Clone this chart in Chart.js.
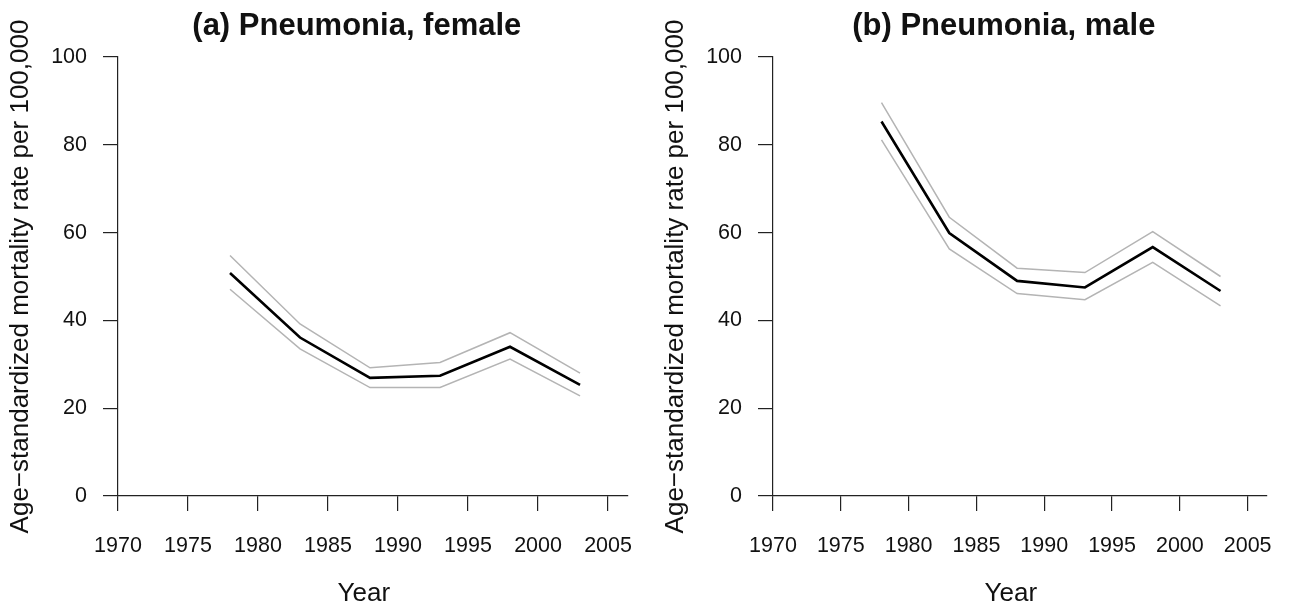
<!DOCTYPE html>
<html>
<head>
<meta charset="utf-8">
<script src="https://cdn.jsdelivr.net/npm/chart.js@4/dist/chart.umd.min.js"></script>
<style>
  html, body { margin: 0; padding: 0; background: #fff; }
  .panel { position: absolute; top: 0; }
</style>
</head>
<body>
<div class="panel" style="left:0px"><canvas id="female" width="655" height="605"></canvas></div>
<div class="panel" style="left:655px"><canvas id="male" width="639" height="605"></canvas></div>
<script>
// period mid-years and rates (per 100,000)
var years = [1978, 1983, 1988, 1993, 1998, 2003];
var femaleRate  = [50.8, 36.1, 26.9, 27.4, 34.0, 25.3];
var femaleUpper = [54.8, 39.2, 29.2, 30.4, 37.2, 28.0];
var femaleLower = [47.1, 33.5, 24.7, 24.7, 31.2, 22.8];
var maleRate  = [85.3, 59.9, 49.0, 47.5, 56.7, 46.7];
var maleUpper = [89.6, 63.5, 51.9, 50.9, 60.2, 50.0];
var maleLower = [81.1, 56.3, 46.1, 44.7, 53.2, 43.3];

var yearTicks = [1970, 1975, 1980, 1985, 1990, 1995, 2000, 2005];
var rateTicks = [0, 20, 40, 60, 80, 100];

var yLabel = "Age\u2212standardized mortality rate per 100,000";
var xLabel = "Year";

var fontFamily = '"Liberation Sans", Arial, Helvetica, sans-serif';
var axisColor = "#222222";
var textColor = "#111111";

Chart.defaults.font.family = fontFamily;
Chart.defaults.color = textColor;

// panel heading and x label, drawn after the chart
var panelText = {
  id: "panelText",
  afterDraw: function(chart, args, opts) {
    var ctx = chart.ctx;
    var area = chart.chartArea;
    var mid = (area.left + area.right) / 2;
    ctx.save();
    ctx.fillStyle = textColor;
    ctx.textAlign = "center";
    ctx.textBaseline = "alphabetic";
    ctx.font = "bold 31px " + fontFamily;
    ctx.fillText(opts.title, mid - 16, 35);
    ctx.font = "26px " + fontFamily;
    ctx.fillText(xLabel, mid - 9, 601);
    ctx.restore();
  }
};

function makeSeries(mean, upper, lower) {
  function pts(arr) {
    return years.map(function(y, i) { return {x: y, y: arr[i]}; });
  }
  return [
    { data: pts(mean), borderColor: "#000000", borderWidth: 2.6 },
    { data: pts(upper), borderColor: "#b4b4b4", borderWidth: 1.5 },
    { data: pts(lower), borderColor: "#b4b4b4", borderWidth: 1.5 }
  ];
}

function makeChart(id, title, sets, rightPad) {
  return new Chart(document.getElementById(id).getContext("2d"), {
    type: "line",
    data: { datasets: sets },
    plugins: [panelText],
    options: {
      responsive: false,
      animation: false,
      elements: {
        point: { radius: 0 },
        line: { tension: 0, fill: false }
      },
      layout: { padding: { left: 0, top: 57, right: rightPad, bottom: 0 } },
      plugins: {
        legend: { display: false },
        tooltip: { enabled: false },
        panelText: { title: title }
      },
      scales: {
        x: {
          type: "linear",
          min: 1970,
          max: 2006.4,
          afterBuildTicks: function(s) {
            s.ticks = yearTicks.map(function(v) { return {value: v}; });
          },
          afterFit: function(s) { s.height = 109; },
          grid: { drawOnChartArea: false, drawTicks: true, tickLength: 15, color: axisColor, lineWidth: 1.2 },
          border: { display: true, color: axisColor, width: 1.2 },
          ticks: {
            padding: 22,
            autoSkip: false,
            maxRotation: 0,
            font: { size: 21.5, lineHeight: 1.2 },
            callback: function(v) { return String(v); }
          }
        },
        y: {
          type: "linear",
          min: 0,
          max: 100,
          afterBuildTicks: function(s) {
            s.ticks = rateTicks.map(function(v) { return {value: v}; });
          },
          afterFit: function(s) { s.width = 118; },
          grid: { drawOnChartArea: false, drawTicks: true, tickLength: 15, color: axisColor, lineWidth: 1.2 },
          border: { display: true, color: axisColor, width: 1.2 },
          ticks: { padding: 16, font: { size: 21.5 } },
          title: {
            display: true,
            text: yLabel,
            font: { size: 26, lineHeight: 1.2 },
            padding: { top: 5.4, bottom: 0 }
          }
        }
      }
    }
  });
}

makeChart("female", "(a) Pneumonia, female", makeSeries(femaleRate, femaleUpper, femaleLower), 27);
makeChart("male", "(b) Pneumonia, male", makeSeries(maleRate, maleUpper, maleLower), 11);
</script>
</body>
</html>
